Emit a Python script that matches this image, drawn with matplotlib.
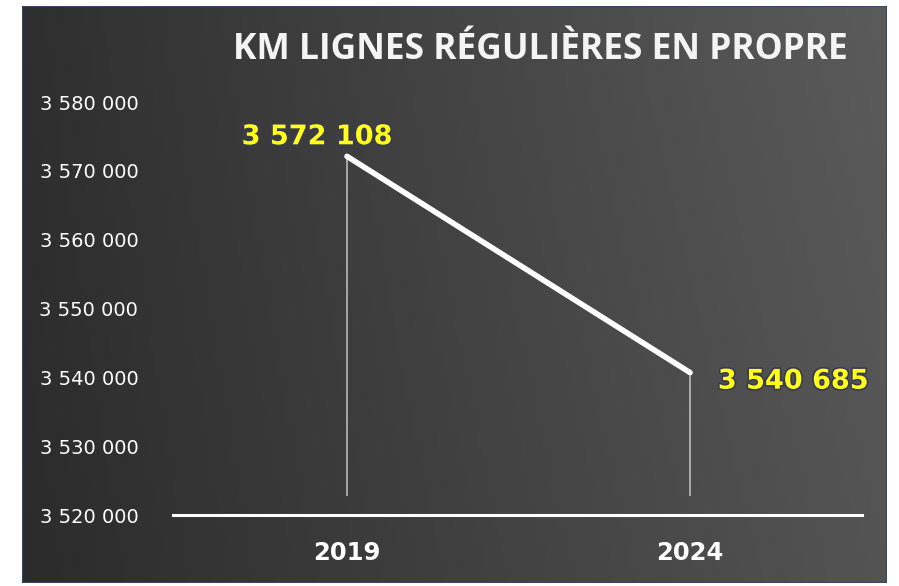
import numpy as np
import matplotlib.pyplot as plt
import matplotlib.patheffects as pe
from matplotlib.patches import Rectangle

# data
years = ["2019", "2024"]
km = [3572108, 3540685]
y_ticks = [3520000, 3530000, 3540000, 3550000, 3560000, 3570000, 3580000]
title = "KM LIGNES RÉGULIÈRES EN PROPRE"

W, H = 899, 586


def fmt(v):
    # french style thousands separator
    return f"{v:,}".replace(",", " ")


fig = plt.figure(figsize=(W / 100, H / 100), dpi=100)
fig.patch.set_facecolor("white")

# dark gradient panel behind the chart
px0, px1, py0, py1 = 22, 887, 6, 583
bg = fig.add_axes([px0 / W, 1 - py1 / H, (px1 - px0) / W, (py1 - py0) / H])
grad = np.linspace(0, 1, 256).reshape(1, -1)
vert = np.linspace(1.0, 0.92, 64).reshape(-1, 1)
lo, hi = 0x2f / 255, 0x5b / 255
img = (lo + (hi - lo) * grad) * vert
bg.imshow(np.dstack([img, img, img * 1.01]).clip(0, 1), aspect="auto",
          extent=[0, 1, 0, 1], origin="upper")
bg.add_patch(Rectangle((0, 0), 1, 1, transform=bg.transAxes, fill=False,
                       edgecolor="#3a4660", linewidth=1.5))
bg.set_axis_off()

# main chart
ax = fig.add_axes([173 / W, 1 - 515 / H, 689 / W, (515 - 102) / H])
ax.set_facecolor("none")
x = np.arange(len(years))
ax.set_xlim(-0.507, len(years) - 1 + 0.501)
ax.set_ylim(y_ticks[0], y_ticks[-1])

# drop lines from the points down to the axis
ax.vlines(x, y_ticks[0] + 2800, km, color="#d8d8d8", linewidth=1.2, alpha=0.8)
ax.plot(x, km, color="white", linewidth=4, solid_capstyle="round",
        solid_joinstyle="round", zorder=3)

for s in ["top", "right", "left"]:
    ax.spines[s].set_visible(False)
ax.spines["bottom"].set_color("white")
ax.spines["bottom"].set_linewidth(2.2)

ax.set_yticks(y_ticks)
ax.set_yticklabels([fmt(v) for v in y_ticks], fontsize=14, color="white",
                   family="DejaVu Sans")
ax.set_xticks(x)
ax.set_xticklabels(years, fontsize=17.5, color="white", fontweight="bold",
                   family="DejaVu Sans")
ax.tick_params(axis="y", length=0, pad=25)
ax.tick_params(axis="x", length=0, pad=19)

glow = [pe.withStroke(linewidth=2.5, foreground="#3a3a55")]
ax.annotate(fmt(km[0]), (x[0], km[0]), xytext=(-21.5, 13.7),
            textcoords="offset points", ha="center", va="center",
            fontsize=19.5, fontweight="bold", color="#ffff1a",
            family="DejaVu Sans", path_effects=glow)
ax.annotate(fmt(km[1]), (x[1], km[1]), xytext=(20, -6.5),
            textcoords="offset points", ha="left", va="center",
            fontsize=19.5, fontweight="bold", color="#ffff1a",
            family="DejaVu Sans", path_effects=glow)

fig.text(540 / W, 1 - 50 / H, title, ha="center", va="center",
         fontsize=25.5, fontweight="bold", color="#f4f4f4", family="Open Sans")

fig.savefig("out.png", dpi=100)
